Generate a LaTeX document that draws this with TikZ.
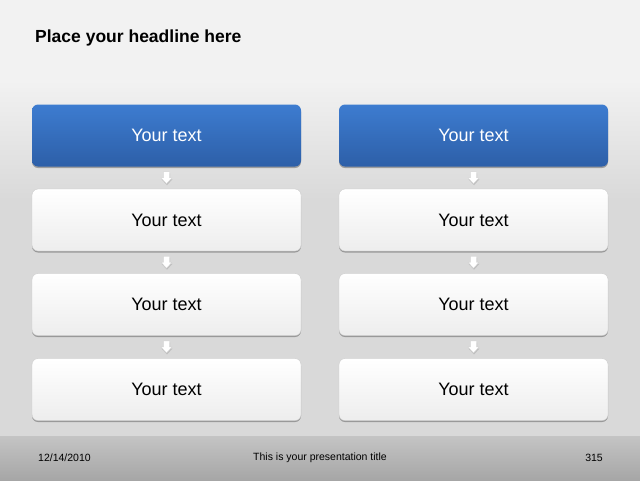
\documentclass[tikz,border=0pt]{standalone}
\usepackage{fontspec}
\setmainfont{Liberation Sans}
\usetikzlibrary{shadows,calc}
\definecolor{bgtop}{HTML}{F2F2F2}
\definecolor{bgmid}{HTML}{D9D9D9}
\definecolor{foottop}{HTML}{C4C4C4}
\definecolor{footbot}{HTML}{A6A6A6}
\definecolor{bluetop}{HTML}{3D7CD0}
\definecolor{bluebot}{HTML}{2D5FA8}
\begin{document}
\begin{tikzpicture}[x=1pt,y=-1pt,
  box/.style={rounded corners=6pt, minimum width=269pt, minimum height=62pt, inner sep=0pt,
    font=\fontsize{18}{20}\selectfont,
    drop shadow={shadow xshift=0pt, shadow yshift=-1.5pt, opacity=0.45, fill=black!70}},
  bluebox/.style={box, top color=bluetop, bottom color=bluebot, text=white},
  whitebox/.style={box, top color=white, bottom color=white!93!black, text=black, draw=white!80!black, line width=0.4pt},
  arrbody/.style={fill=white, draw=white!82!black, line width=0.3pt, line join=round},
  arrshadow/.style={fill=black!45, opacity=0.35},
  foot/.style={font=\fontsize{10.5}{12}\selectfont, text=black, inner sep=0pt}]
\useasboundingbox (0,0) rectangle (640,480);
% background
\fill[bgtop] (0,0) rectangle (640,80);
\shade[top color=bgtop, bottom color=bgmid] (0,80) rectangle (640,200);
\fill[bgmid] (0,199.5) rectangle (640,436);
\shade[top color=foottop, bottom color=footbot] (0,436) rectangle (640,480);
% headline
\node[anchor=west, font=\fontsize{17.5}{19}\selectfont\bfseries, inner sep=0pt] (head) at (35,38) {Place your headline here};
% boxes
\node[bluebox] (a1) at (166.5,135.5) {Your text};
\node[whitebox] (a2) at (166.5,220) {Your text};
\node[whitebox] (a3) at (166.5,304.5) {Your text};
\node[whitebox] (a4) at (166.5,389.5) {Your text};
\node[bluebox] (b1) at (473.5,135.5) {Your text};
\node[whitebox] (b2) at (473.5,220) {Your text};
\node[whitebox] (b3) at (473.5,304.5) {Your text};
\node[whitebox] (b4) at (473.5,389.5) {Your text};
% arrows
\foreach \p/\q in {a1/a2,a2/a3,a3/a4,b1/b2,b2/b3,b3/b4} {
  \coordinate (m-\p) at ($(\p.south)!0.5!(\q.north)$);
  \fill[arrshadow] ($(m-\p)+(0.5,1.5)$) +(-3,-6) -- +(3,-6) -- +(3,0) -- +(5.5,0) -- +(0,6) -- +(-5.5,0) -- +(-3,0) -- cycle;
  \path[arrbody] (m-\p) +(-3,-6) -- +(3,-6) -- +(3,0) -- +(5.5,0) -- +(0,6) -- +(-5.5,0) -- +(-3,0) -- cycle;
}
% footer
\node[foot, anchor=west] (date) at (38,457.5) {12/14/2010};
\node[foot] (title) at (320,457.5) {This is your presentation title};
\node[foot, anchor=east] (pg) at (603,457.5) {315};
\end{tikzpicture}
\end{document}
